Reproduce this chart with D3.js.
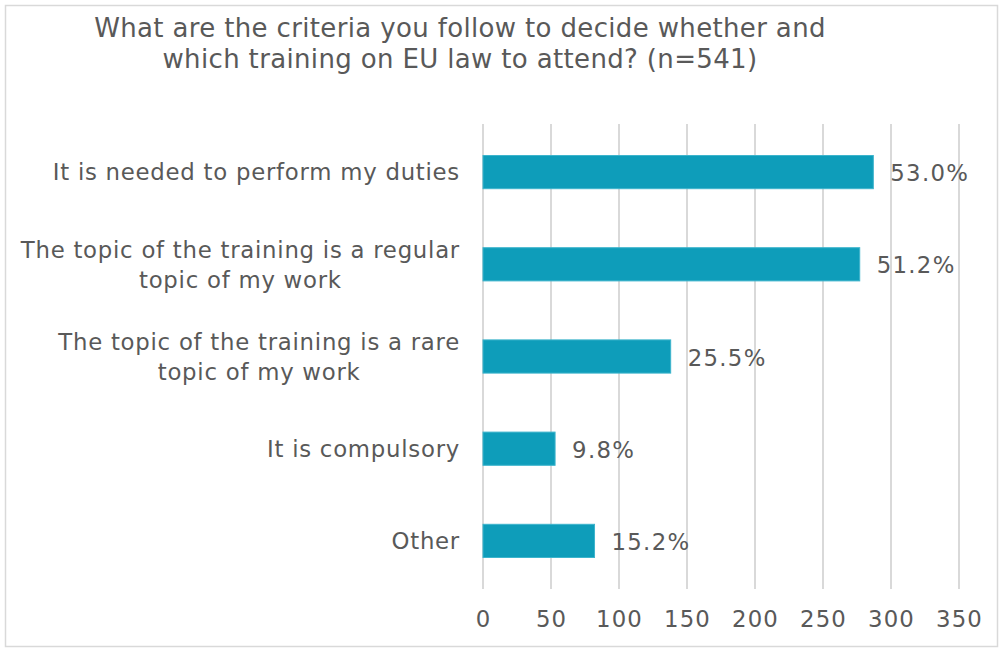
<!DOCTYPE html>
<html>
<head>
<meta charset="utf-8">
<script src="https://cdn.jsdelivr.net/npm/d3@7"></script>
<style>
  html, body { margin: 0; padding: 0; background: #fff; }
  svg { display: block; }
  text { font-family: "DejaVu Sans", Verdana, sans-serif; fill: #595959; }
</style>
</head>
<body>
<svg id="chart" width="1000" height="648"></svg>
<script>
const titleLines = ["What are the criteria you follow to decide whether and", "which training on EU law to attend? (n=541)"];
const categories = [
  ["It is needed to perform my duties"],
  ["The topic of the training is a regular", "topic of my work"],
  ["The topic of the training is a rare", "topic of my work"],
  ["It is compulsory"],
  ["Other"]
];
const counts = [287, 277, 138, 53, 82];
const percentLabels = ["53.0%", "51.2%", "25.5%", "9.8%", "15.2%"];
const xTicks = [0, 50, 100, 150, 200, 250, 300, 350];

const svg = d3.select("#chart");
const W = 1000, H = 648;

// outer border
svg.append("rect").attr("x", 5.5).attr("y", 5.5).attr("width", W - 8).attr("height", H - 7)
  .attr("fill", "#fff").attr("stroke", "#d9d9d9").attr("stroke-width", 1.5);

const plot = { left: 483, right: 959, top: 126, bottom: 587 };

const x = d3.scaleLinear().domain([0, 350]).range([plot.left, plot.right]);
const y = d3.scaleBand().domain(d3.range(categories.length)).range([plot.top, plot.bottom]).paddingInner(0.64).paddingOuter(0.32);

// title
const title = svg.append("text").attr("text-anchor", "middle").attr("font-size", 26)
  .attr("letter-spacing", 0.35);
titleLines.forEach((t, i) => {
  title.append("tspan").attr("x", 460).attr("y", 37 + i * 31).text(t);
});

// gridlines
svg.append("g").selectAll("line").data(xTicks).join("line")
  .attr("x1", d => x(d)).attr("x2", d => x(d))
  .attr("y1", 124).attr("y2", 589)
  .attr("stroke", "#d9d9d9").attr("stroke-width", 2);

// x axis labels
const xAxis = d3.axisBottom(x).tickValues(xTicks).tickSize(0).tickPadding(0);
const gx = svg.append("g").attr("transform", `translate(0, ${611})`).call(xAxis);
gx.select(".domain").remove();
gx.selectAll("text").attr("font-size", 22.8).attr("dy", "0.71em").attr("letter-spacing", 1.1)
  .style("font-family", '"DejaVu Sans", Verdana, sans-serif').attr("fill", "#595959");

// bars
svg.append("g").selectAll("rect").data(counts).join("rect")
  .attr("x", x(0)).attr("y", (d, i) => y(i))
  .attr("width", d => x(d) - x(0)).attr("height", y.bandwidth())
  .attr("fill", "#0e9dba").attr("stroke", "#3db4cc").attr("stroke-width", 1);

// value labels
svg.append("g").selectAll("text").data(counts).join("text")
  .attr("x", d => x(d) + 17).attr("y", (d, i) => y(i) + y.bandwidth() / 2)
  .attr("dy", "0.4em").attr("font-size", 22.8).attr("letter-spacing", 1.3)
  .text((d, i) => percentLabels[i]);

// category labels
const lab = svg.append("g").selectAll("text").data(categories).join("text")
  .attr("text-anchor", "end").attr("font-size", 22.8).attr("letter-spacing", 0.75)
  .attr("transform", (d, i) => `translate(460, ${y(i) + y.bandwidth() / 2})`);
lab.each(function(lines) {
  const t = d3.select(this);
  const lh = 30;
  lines.forEach((l, j) => {
    t.append("tspan").attr("x", 0)
      .attr("y", (j - (lines.length - 1) / 2) * lh).attr("dy", "0.36em").text(l);
  });
});
// center following lines of multi-line labels under the first line
lab.each(function(lines) {
  if (lines.length < 2) return;
  const tspans = d3.select(this).selectAll("tspan").nodes();
  const w0 = tspans[0].getComputedTextLength();
  tspans.forEach((ts, j) => {
    if (j === 0) return;
    const wj = ts.getComputedTextLength();
    d3.select(ts).attr("x", -(w0 - wj) / 2);
  });
});
</script>
</body>
</html>
